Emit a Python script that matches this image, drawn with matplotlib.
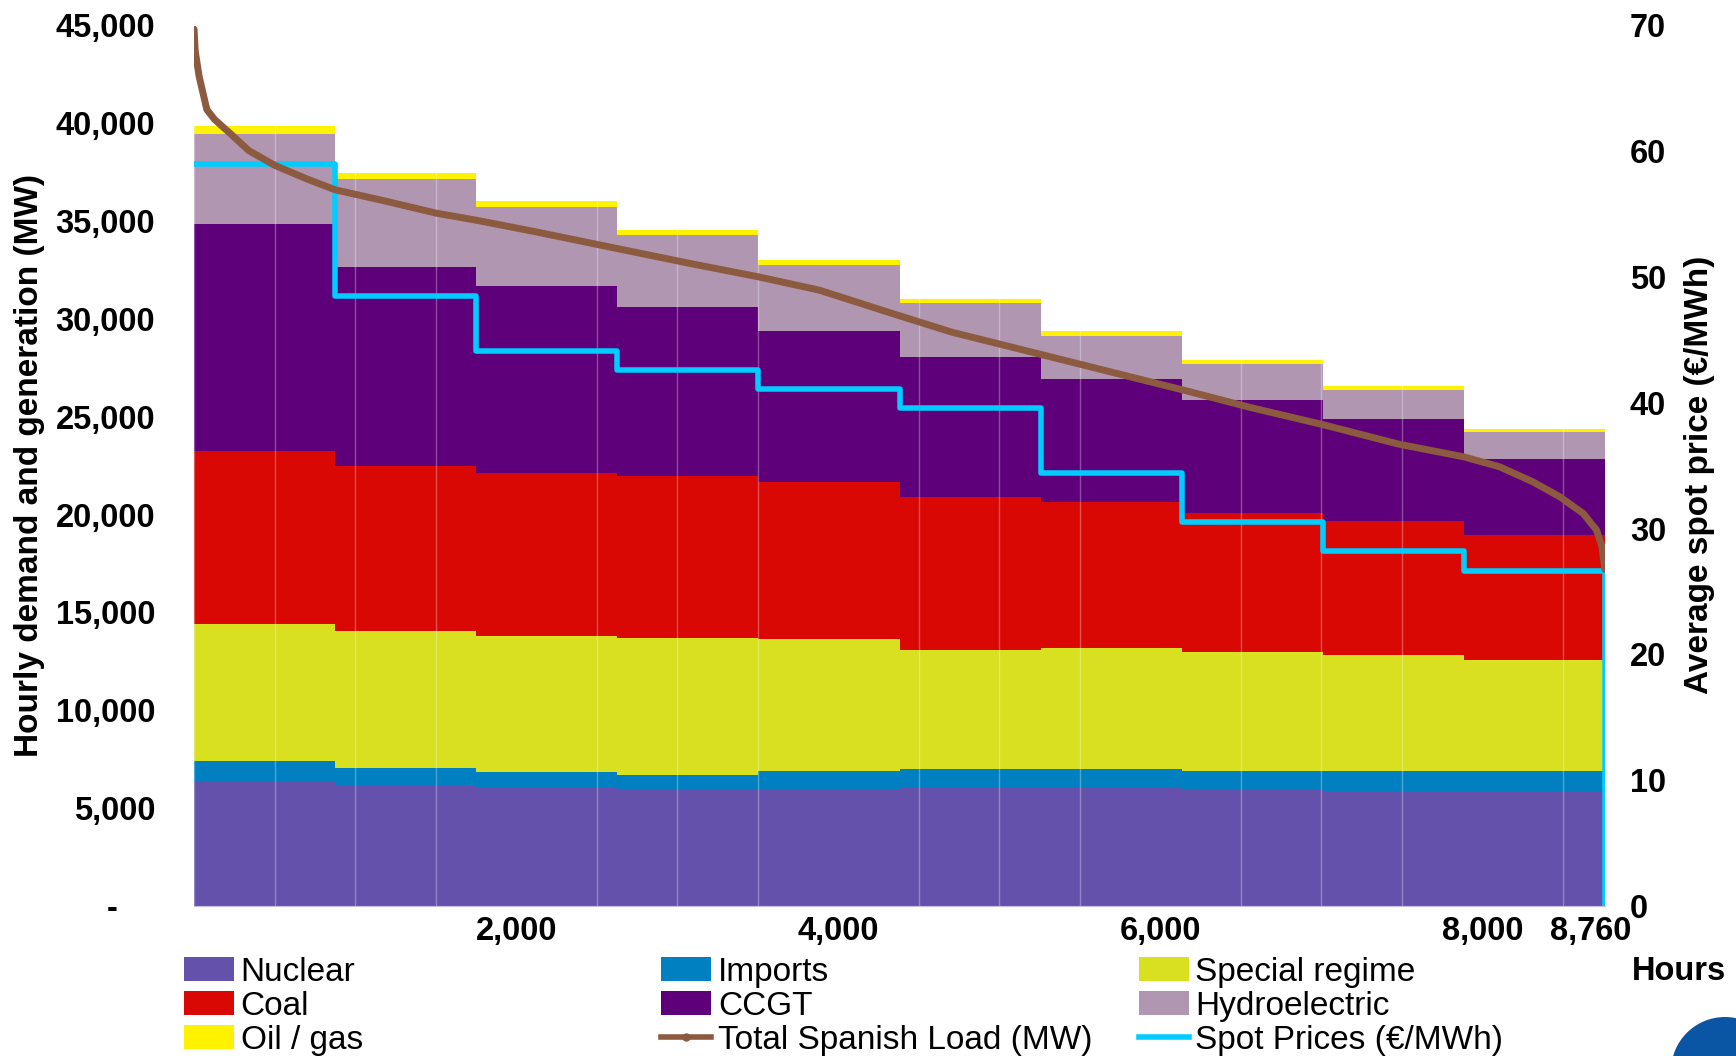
import matplotlib
matplotlib.use('Agg')
from matplotlib import pyplot
from matplotlib.ticker import MultipleLocator, FixedLocator, FuncFormatter
from matplotlib.transforms import ScaledTranslation
from matplotlib.patches import Patch, Ellipse
from matplotlib.lines import Line2D

pyplot.rcParams['font.family'] = ['Liberation Sans', 'DejaVu Sans']

# Load-duration deciles (876 hours each), average generation per source (MW)
decile_edges = [0, 876, 1752, 2628, 3504, 4380, 5256, 6132, 7008, 7884, 8760]
nuclear = [6400, 6170, 6045, 5930, 6000, 6060, 6060, 5940, 5890, 5830]
imports = [990, 890, 785, 790, 900, 960, 960, 960, 1010, 1070]
special = [7040, 6980, 6980, 6980, 6740, 6060, 6170, 6060, 5950, 5670]
coal = [8830, 8430, 8320, 8260, 8040, 7810, 7470, 7130, 6810, 6410]
ccgt = [11610, 10190, 9550, 8660, 7700, 7180, 6280, 5760, 5220, 3850]
hydro = [4570, 4500, 4060, 3680, 3390, 2720, 2210, 1830, 1510, 1400]
oil_gas = [420, 290, 280, 230, 230, 230, 230, 220, 190, 140]

# Average spot price per decile (EUR/MWh)
spot_price = [59.0, 48.5, 44.1, 42.6, 41.1, 39.6, 34.4, 30.5, 28.2, 26.6]

# Total Spanish load, sorted (load duration curve)
load_hours = [0, 7, 31, 79, 126, 221, 340, 500, 695, 875, 1172, 1505, 1754,
              2122, 2624, 3100, 3504, 3882, 4376, 4706, 5256, 5668, 6135,
              6561, 7008, 7480, 7885, 8107, 8314, 8480, 8625, 8708, 8740, 8760]
load_mw = [44800, 43700, 42400, 40700, 40200, 39500, 38600, 37850, 37170,
           36600, 36050, 35400, 35040, 34450, 33600, 32800, 32150, 31470,
           30170, 29320, 28190, 27340, 26380, 25470, 24600, 23600, 22950,
           22440, 21670, 20910, 20060, 19210, 18400, 17200]

x_ticks = [2000, 4000, 6000, 8000, 8760]
y_ticks = [0, 5000, 10000, 15000, 20000, 25000, 30000, 35000, 40000, 45000]

series = [
    ('Nuclear', nuclear, '#6351ab'),
    ('Imports', imports, '#0080c0'),
    ('Special regime', special, '#d8e020'),
    ('Coal', coal, '#d90804'),
    ('CCGT', ccgt, '#5e0079'),
    ('Hydroelectric', hydro, '#b196b2'),
    ('Oil / gas', oil_gas, '#fff200'),
]
load_color = '#8b5a3f'
spot_color = '#00ccff'
FS = 23.5

fig = pyplot.figure(figsize=(17.36, 10.56), dpi=100)
ax = fig.add_axes([0.1118, 0.142, 0.8127, 0.834])

widths = [decile_edges[i + 1] - decile_edges[i] for i in range(len(nuclear))]
bottom = [0] * len(nuclear)
handles = {}
for name, vals, color in series:
    ax.bar(decile_edges[:-1], vals, width=widths, bottom=bottom, align='edge',
           color=color, linewidth=0, zorder=1)
    bottom = [b + v for b, v in zip(bottom, vals)]
    handles[name] = Patch(facecolor=color, edgecolor='none')

ax.set_xlim(0, 8760)
ax.set_ylim(0, 45000)
ax.xaxis.set_major_locator(FixedLocator(x_ticks))
ax.xaxis.set_major_formatter(FuncFormatter(lambda v, p: f'{int(v):,}'))
ax.xaxis.set_minor_locator(MultipleLocator(500))
ax.set_axisbelow(False)
ax.grid(axis='x', which='minor', color='white', alpha=0.3, linewidth=1)
ax.yaxis.set_major_locator(FixedLocator(y_ticks))
ax.yaxis.set_major_formatter(FuncFormatter(lambda v, p: '-' if v == 0 else f'{int(v):,}'))
ax.tick_params(axis='both', which='both', length=0, labelsize=FS)
ax.tick_params(axis='x', pad=7)
ax.tick_params(axis='y', pad=28)
for s in ax.spines.values():
    s.set_visible(False)
ax.spines['bottom'].set_visible(True)
ax.spines['bottom'].set_color('#c8c0e0')
ax.set_ylabel('Hourly demand and generation (MW)', fontsize=24, fontweight='bold')
ax.yaxis.set_label_coords(-0.1056, 0.5)

# price axis
ax2 = ax.twinx()
ax2.set_ylim(0, 70)
ax2.step(decile_edges, spot_price + [spot_price[-1]], where='post',
         color=spot_color, linewidth=4, zorder=3)
ax2.vlines(decile_edges[-1], 0, spot_price[-1], color=spot_color, linewidth=4)
ax2.yaxis.set_major_locator(MultipleLocator(10))
ax2.tick_params(axis='y', length=0, labelsize=FS, pad=18)
for s in ax2.spines.values():
    s.set_visible(False)
ax2.set_ylabel('Average spot price (€/MWh)', fontsize=24, fontweight='bold',
               rotation=90)
ax2.yaxis.set_label_coords(1.056, 0.49)

# load curve on top
ax3 = ax.twinx()
ax3.set_ylim(0, 45000)
ax3.plot(load_hours, load_mw, color=load_color, linewidth=5,
         solid_capstyle='round')
ax3.axis('off')

for lab in ax.get_xticklabels() + ax.get_yticklabels() + ax2.get_yticklabels():
    lab.set_fontweight('bold')
# excel-style placement of the "-" zero label and the last hour label
dash = ax.get_yticklabels()[0]
dash.set_transform(dash.get_transform() + ScaledTranslation(-0.38, 0, fig.dpi_scale_trans))
last = ax.get_xticklabels()[-1]
last.set_transform(last.get_transform() + ScaledTranslation(-0.14, 0, fig.dpi_scale_trans))

fig.text(0.967, 0.080, 'Hours', fontsize=FS, fontweight='bold',
         ha='center', va='center')

load_handle = Line2D([], [], color=load_color, linewidth=4, marker='o',
                     markersize=5)
spot_handle = Line2D([], [], color=spot_color, linewidth=4)

columns = [
    (0.106, [('Nuclear', handles['Nuclear']), ('Coal', handles['Coal']),
             ('Oil / gas', handles['Oil / gas'])]),
    (0.381, [('Imports', handles['Imports']), ('CCGT', handles['CCGT']),
             ('Total Spanish Load (MW)', load_handle)]),
    (0.656, [('Special regime', handles['Special regime']),
             ('Hydroelectric', handles['Hydroelectric']),
             ('Spot Prices (€/MWh)', spot_handle)]),
]
for x0, items in columns:
    fig.legend([h for _, h in items], [n for n, _ in items],
               loc='upper left', bbox_to_anchor=(x0, 0.094), frameon=False,
               fontsize=24, handlelength=1.5, handleheight=0.7,
               handletextpad=0.2, labelspacing=0.09, borderpad=0,
               borderaxespad=0)

# partial logo in the corner
fig.patches.append(Ellipse((1725 / 1736, 1 - 1071 / 1056), 108 / 1736, 108 / 1056,
                           transform=fig.transFigure, facecolor='#0b55a5',
                           edgecolor='none'))

fig.savefig('out.png', dpi=100)
